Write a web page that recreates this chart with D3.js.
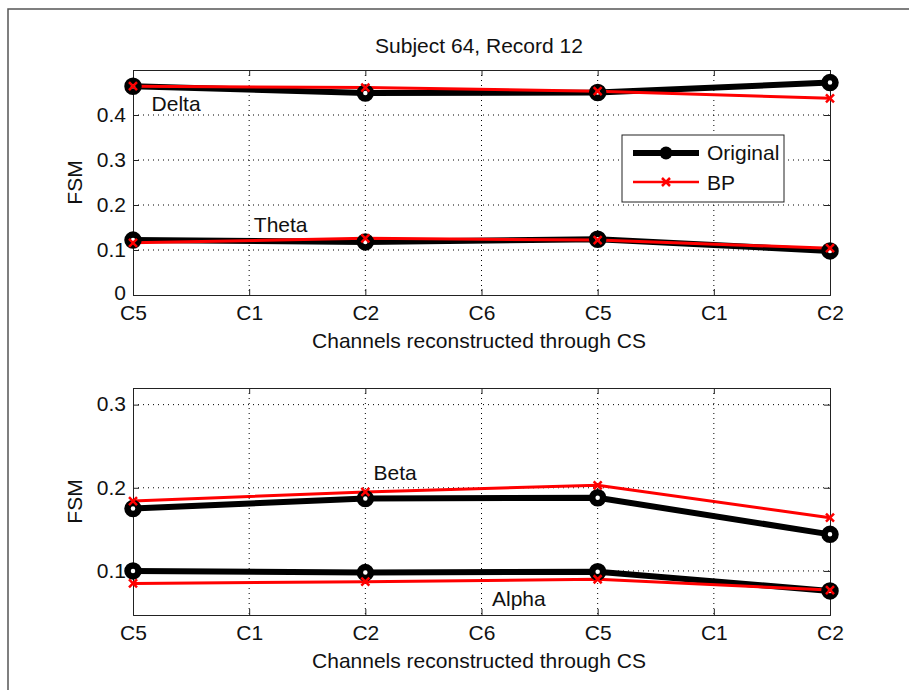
<!doctype html>
<head>
  <meta charset="utf-8">
  <script src="https://cdnjs.cloudflare.com/ajax/libs/d3/7.8.2/d3.min.js"></script>
</head>
<style>
    body { margin: 0; background: #fff; }
    svg text { font-family: "Liberation Sans", Arial, sans-serif; font-size: 21px; fill: #111; }
</style>
<body>
<div id="chart"></div>
<script>
    // channel labels along x
    const channels = ["C5", "C1", "C2", "C6", "C5", "C1", "C2"];
    // measured points (channel index)
    const pointIdx = [0, 2, 4, 6];

    // top panel
    const deltaOrig = [0.464, 0.449, 0.450, 0.472];
    const deltaBP   = [0.464, 0.461, 0.453, 0.437];
    const thetaOrig = [0.122, 0.118, 0.124, 0.098];
    const thetaBP   = [0.116, 0.126, 0.122, 0.104];
    const topTicks  = [0, 0.1, 0.2, 0.3, 0.4];

    // bottom panel
    const betaOrig  = [0.175, 0.187, 0.188, 0.144];
    const betaBP    = [0.184, 0.195, 0.203, 0.164];
    const alphaOrig = [0.100, 0.098, 0.099, 0.076];
    const alphaBP   = [0.085, 0.087, 0.090, 0.077];
    const botTicks  = [0.1, 0.2, 0.3];

    const W = 909, H = 690;
    const svg = d3.select('#chart').append('svg')
        .attr('width', W).attr('height', H);

    svg.append('rect').attr('width', W).attr('height', H).attr('fill', '#fff');
    // figure frame
    svg.append('path').attr('d', `M8,${H} V9 H${W}`)
        .attr('fill', 'none').attr('stroke', '#555').attr('stroke-width', 1.5);

    svg.append('text').attr('x', 479).attr('y', 53).attr('text-anchor', 'middle')
        .text('Subject 64, Record 12');

    function panel(top, bottom, yDomain, yTicks, series, labels, legend) {
        const x = d3.scaleLinear().domain([0, channels.length - 1]).range([133, 830]);
        const y = d3.scaleLinear().domain(yDomain).range([bottom, top]);
        const g = svg.append('g');

        // dotted grid
        g.selectAll('.gx').data(d3.range(1, channels.length - 1)).enter().append('line')
            .attr('x1', d => x(d)).attr('x2', d => x(d)).attr('y1', top).attr('y2', bottom)
            .attr('stroke', '#000').attr('stroke-width', 1).attr('stroke-dasharray', '1,4');
        g.selectAll('.gy').data(yTicks.filter(v => v > yDomain[0])).enter().append('line')
            .attr('x1', 133).attr('x2', 830).attr('y1', d => y(d)).attr('y2', d => y(d))
            .attr('stroke', '#000').attr('stroke-width', 1).attr('stroke-dasharray', '1,4');

        // axes (ticks pointing inward like matlab)
        const xa = d3.axisBottom(x).tickValues(d3.range(channels.length))
            .tickFormat(i => channels[i]).tickSize(-6).tickPadding(10);
        g.append('g').attr('transform', `translate(0,${bottom})`).call(xa);
        g.append('g').attr('transform', `translate(0,${top})`)
            .call(d3.axisTop(x).tickValues(d3.range(channels.length)).tickFormat('').tickSize(-6));
        const ya = d3.axisLeft(y).tickValues(yTicks).tickFormat(d3.format('~g')).tickSize(-6).tickPadding(7);
        g.append('g').attr('class', 'yax').attr('transform', 'translate(133,0)').call(ya);
        g.append('g').attr('transform', 'translate(830,0)')
            .call(d3.axisRight(y).tickValues(yTicks).tickFormat('').tickSize(-6));
        g.selectAll('.domain').attr('stroke', '#222');
        g.selectAll('.tick line').attr('stroke', '#222');
        g.selectAll('.tick text').attr('font-size', 21).attr('fill', '#111')
            .attr('font-family', '"Liberation Sans", Arial, sans-serif');
        g.selectAll('.yax .tick text').attr('dy', d => d === 0 ? '0.2em' : '0.3em');

        g.append('text').attr('x', 479).attr('y', bottom + 53).attr('text-anchor', 'middle')
            .text('Channels reconstructed through CS');
        g.append('text').attr('transform', `translate(82,${(top + bottom) / 2}) rotate(-90)`)
            .attr('text-anchor', 'middle').text('FSM');

        const line = d3.line().x((d, i) => x(pointIdx[i])).y(d => y(d));
        series.forEach(s => {
            if (s.kind === 'orig') {
                g.append('path').attr('d', line(s.values)).attr('fill', 'none')
                    .attr('stroke', '#000').attr('stroke-width', 6);
            } else {
                g.append('path').attr('d', line(s.values)).attr('fill', 'none')
                    .attr('stroke', '#ff0000').attr('stroke-width', 3);
            }
        });
        series.forEach(s => {
            s.values.forEach((v, i) => {
                const cx = x(pointIdx[i]), cy = y(v);
                if (s.kind === 'orig') {
                    g.append('circle').attr('cx', cx).attr('cy', cy).attr('r', 5.5)
                        .attr('fill', '#fff').attr('stroke', '#000').attr('stroke-width', 6.5);
                } else {
                    g.append('path').attr('d', `M${cx - 4},${cy - 4}L${cx + 4},${cy + 4}M${cx - 4},${cy + 4}L${cx + 4},${cy - 4}`)
                        .attr('stroke', '#ff0000').attr('stroke-width', 2.5);
                }
            });
        });

        labels.forEach(l => {
            g.append('text').attr('x', x(l.at)).attr('y', y(l.v)).text(l.name);
        });

        if (legend) {
            const lg = g.append('g');
            lg.append('rect').attr('x', 622).attr('y', 135).attr('width', 162).attr('height', 67)
                .attr('fill', '#fff').attr('stroke', '#222').attr('stroke-width', 1);
            lg.append('line').attr('x1', 633).attr('x2', 699).attr('y1', 153).attr('y2', 153)
                .attr('stroke', '#000').attr('stroke-width', 6);
            lg.append('circle').attr('cx', 666).attr('cy', 153).attr('r', 6.5)
                .attr('fill', '#000');
            lg.append('text').attr('x', 707).attr('y', 160).text('Original');
            lg.append('line').attr('x1', 633).attr('x2', 699).attr('y1', 182).attr('y2', 182)
                .attr('stroke', '#ff0000').attr('stroke-width', 2.5);
            lg.append('path').attr('d', 'M662,178L670,186M662,186L670,178')
                .attr('stroke', '#ff0000').attr('stroke-width', 2.5);
            lg.append('text').attr('x', 707).attr('y', 190).text('BP');
        }
    }

    panel(70, 295, [0, 0.5], topTicks, [
        {kind: 'orig', values: deltaOrig},
        {kind: 'orig', values: thetaOrig},
        {kind: 'bp', values: deltaBP},
        {kind: 'bp', values: thetaBP},
    ], [
        {name: 'Delta', at: 0.16, v: 0.41},
        {name: 'Theta', at: 1.04, v: 0.141},
    ], true);

    panel(388, 615, [0.047, 0.32], botTicks, [
        {kind: 'orig', values: betaOrig},
        {kind: 'orig', values: alphaOrig},
        {kind: 'bp', values: betaBP},
        {kind: 'bp', values: alphaBP},
    ], [
        {name: 'Beta', at: 2.07, v: 0.209},
        {name: 'Alpha', at: 3.09, v: 0.058},
    ], false);
</script>
</body>
